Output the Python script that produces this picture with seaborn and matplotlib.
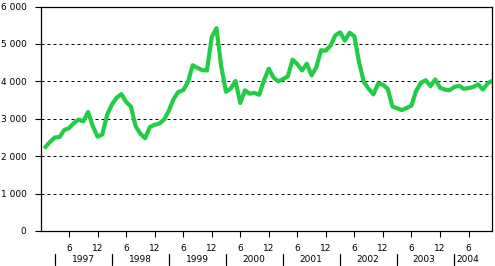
import numpy as np
import pandas as pd
import matplotlib
matplotlib.use("Agg")
import matplotlib.pyplot as plt
import seaborn as sns

# Monthly values, Jan 1997 .. Nov 2004
values = [
    2240, 2380, 2500, 2510, 2700, 2750, 2880, 2980, 2930, 3180, 2800, 2520,   # 1997
    2580, 3100, 3380, 3560, 3660, 3450, 3330, 2800, 2600, 2480, 2780, 2840,   # 1998
    2870, 2980, 3220, 3530, 3720, 3760, 3980, 4430, 4360, 4300, 4290, 5180,   # 1999
    5420, 4400, 3720, 3810, 4010, 3420, 3760, 3670, 3690, 3640, 4030, 4340,   # 2000
    4100, 4000, 4060, 4130, 4580, 4460, 4290, 4470, 4160, 4380, 4830, 4820,   # 2001
    4960, 5230, 5310, 5090, 5300, 5200, 4500, 3980, 3800, 3650, 3940, 3910,   # 2002
    3800, 3330, 3280, 3230, 3290, 3350, 3750, 3960, 4030, 3870, 4050, 3830,   # 2003
    3780, 3760, 3850, 3880, 3800, 3820, 3850, 3920, 3780, 3940, 4020,         # 2004
]
years = ["1997", "1998", "1999", "2000", "2001", "2002", "2003", "2004"]
month_labels = ["6", "12"]
y_ticks = [0, 1000, 2000, 3000, 4000, 5000, 6000]
y_tick_labels = ["0", "1 000", "2 000", "3 000", "4 000", "5 000", "6 000"]

df = pd.DataFrame({"month": np.arange(1, len(values) + 1), "value": values})

sns.set_style("white")
plt.rcParams["font.family"] = ["DejaVu Sans"]

fig = plt.figure(figsize=(4.95, 2.66), dpi=100)
ax = fig.add_axes([40.5 / 495, 35 / 266, (492.3 - 40.5) / 495, (231 - 6.5) / 266])

for v in y_ticks[1:-1]:
    ax.axhline(v, color="black", lw=0.72, ls=(0, (3, 3)), zorder=1)

sns.lineplot(data=df, x="month", y="value", ax=ax, color="#22cc44", lw=3.0,
             zorder=3, legend=False)

ax.set_xlim(0, len(values))
ax.set_ylim(0, 6000)
ax.set_xlabel("")
ax.set_ylabel("")

ax.set_yticks(y_ticks)
ax.set_yticklabels(y_tick_labels)
xt = np.arange(6, len(values) + 1, 6)
ax.set_xticks(xt)
ax.set_xticklabels([month_labels[i % 2] for i in range(len(xt))])

ax.tick_params(axis="both", direction="out", length=4.5, width=0.8, color="black",
               labelsize=6.5, labelcolor="black")
ax.tick_params(axis="y", pad=5.5)
ax.tick_params(axis="x", pad=5.0)
ax.tick_params(left=True, bottom=True)

for s in ax.spines.values():
    s.set_visible(True)
    s.set_color("black")
    s.set_linewidth(0.9)

tr = ax.get_xaxis_transform()
h = (231 - 6.5)
for k, yr in enumerate(years):
    sep = 3 + 12 * k
    ax.plot([sep, sep], [-(253.5 - 231) / h, -(264.5 - 231) / h], color="black",
            lw=0.9, transform=tr, clip_on=False)
    if k < len(years) - 1:
        xc = 9 + 12 * k - 0.3 * k / 6
    else:
        xc = sep + 2.9
    ax.text(xc, -(259.3 - 231) / h, yr, transform=tr, ha="center", va="center",
            fontsize=6.5, color="black")

fig.savefig("out.png", dpi=100)
